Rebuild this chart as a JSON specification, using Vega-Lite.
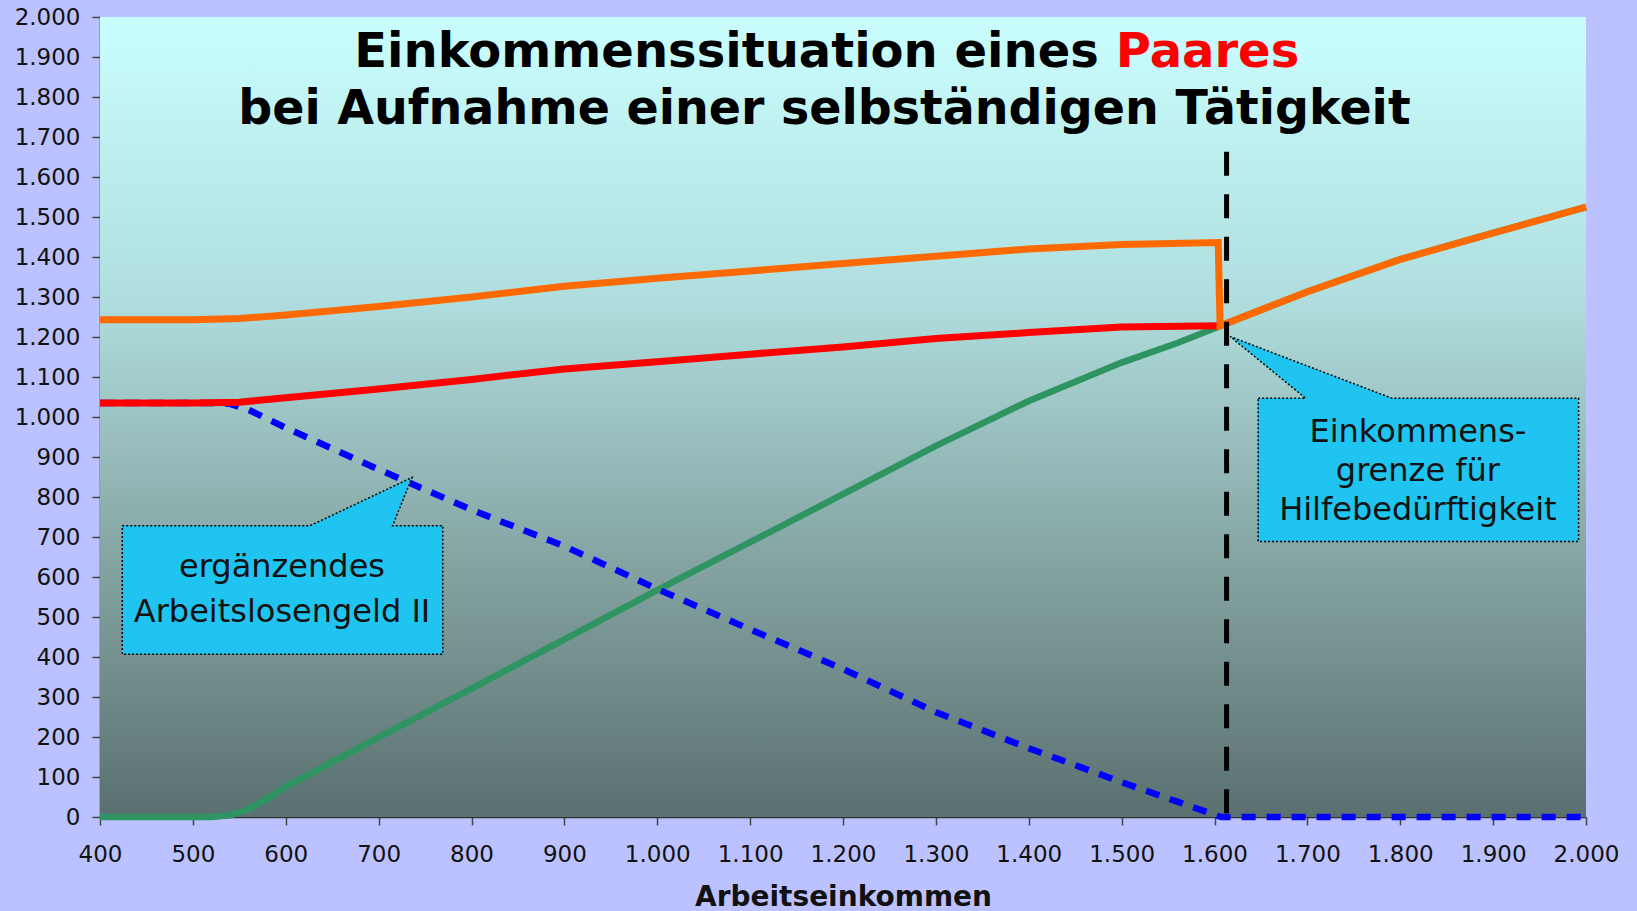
{
  "$schema": "https://vega.github.io/schema/vega-lite/v6.json",
  "autosize": "none",
  "width": 1486,
  "height": 800,
  "padding": {"left": 100, "top": 17, "right": 51, "bottom": 94},
  "background": "#bcc2ff",
  "config": {
    "locale": {"number": {"decimal": ",", "thousands": ".", "grouping": [3], "currency": ["", " €"]}},
    "view": {"stroke": null},
    "font": "DejaVu Sans",
    "axis": {
      "grid": false,
      "labelFont": "DejaVu Sans",
      "labelFontSize": 23,
      "labelColor": "#111111",
      "labelOverlap": false,
      "domainColor": "#333333",
      "domainWidth": 1.5,
      "tickColor": "#444444",
      "tickWidth": 1.5,
      "tickSize": 8,
      "titleFont": "DejaVu Sans",
      "titleFontWeight": "bold",
      "titleColor": "#111111"
    }
  },
  "datasets": {
    "series": [
      {"x": 400, "y": 0, "s": "Arbeitseinkommen"},
      {"x": 520, "y": 0, "s": "Arbeitseinkommen"},
      {"x": 540, "y": 4, "s": "Arbeitseinkommen"},
      {"x": 560, "y": 20, "s": "Arbeitseinkommen"},
      {"x": 580, "y": 46, "s": "Arbeitseinkommen"},
      {"x": 600, "y": 76, "s": "Arbeitseinkommen"},
      {"x": 700, "y": 199, "s": "Arbeitseinkommen"},
      {"x": 800, "y": 321, "s": "Arbeitseinkommen"},
      {"x": 900, "y": 444, "s": "Arbeitseinkommen"},
      {"x": 1000, "y": 567, "s": "Arbeitseinkommen"},
      {"x": 1100, "y": 687, "s": "Arbeitseinkommen"},
      {"x": 1200, "y": 807, "s": "Arbeitseinkommen"},
      {"x": 1300, "y": 928, "s": "Arbeitseinkommen"},
      {"x": 1400, "y": 1040, "s": "Arbeitseinkommen"},
      {"x": 1500, "y": 1136, "s": "Arbeitseinkommen"},
      {"x": 1560, "y": 1185, "s": "Arbeitseinkommen"},
      {"x": 1607, "y": 1228, "s": "Arbeitseinkommen"},
      {"x": 1700, "y": 1313, "s": "Arbeitseinkommen"},
      {"x": 1800, "y": 1394, "s": "Arbeitseinkommen"},
      {"x": 1900, "y": 1460, "s": "Arbeitseinkommen"},
      {"x": 2000, "y": 1525, "s": "Arbeitseinkommen"},

      {"x": 400, "y": 1035, "s": "Arbeitslosengeld II"},
      {"x": 520, "y": 1035, "s": "Arbeitslosengeld II"},
      {"x": 540, "y": 1033, "s": "Arbeitslosengeld II"},
      {"x": 560, "y": 1018, "s": "Arbeitslosengeld II"},
      {"x": 600, "y": 973, "s": "Arbeitslosengeld II"},
      {"x": 700, "y": 869, "s": "Arbeitslosengeld II"},
      {"x": 800, "y": 768, "s": "Arbeitslosengeld II"},
      {"x": 900, "y": 677, "s": "Arbeitslosengeld II"},
      {"x": 1000, "y": 570, "s": "Arbeitslosengeld II"},
      {"x": 1100, "y": 469, "s": "Arbeitslosengeld II"},
      {"x": 1200, "y": 370, "s": "Arbeitslosengeld II"},
      {"x": 1300, "y": 262, "s": "Arbeitslosengeld II"},
      {"x": 1400, "y": 172, "s": "Arbeitslosengeld II"},
      {"x": 1500, "y": 87, "s": "Arbeitslosengeld II"},
      {"x": 1607, "y": 0, "s": "Arbeitslosengeld II"},
      {"x": 2000, "y": 0, "s": "Arbeitslosengeld II"},

      {"x": 400, "y": 1035, "s": "Gesamteinkommen"},
      {"x": 500, "y": 1035, "s": "Gesamteinkommen"},
      {"x": 550, "y": 1037, "s": "Gesamteinkommen"},
      {"x": 600, "y": 1048, "s": "Gesamteinkommen"},
      {"x": 700, "y": 1070, "s": "Gesamteinkommen"},
      {"x": 800, "y": 1094, "s": "Gesamteinkommen"},
      {"x": 900, "y": 1120, "s": "Gesamteinkommen"},
      {"x": 1000, "y": 1138, "s": "Gesamteinkommen"},
      {"x": 1100, "y": 1157, "s": "Gesamteinkommen"},
      {"x": 1200, "y": 1175, "s": "Gesamteinkommen"},
      {"x": 1300, "y": 1196, "s": "Gesamteinkommen"},
      {"x": 1400, "y": 1211, "s": "Gesamteinkommen"},
      {"x": 1500, "y": 1225, "s": "Gesamteinkommen"},
      {"x": 1605, "y": 1228, "s": "Gesamteinkommen"},

      {"x": 400, "y": 1243, "s": "Gesamteinkommen inkl. Zuschlag"},
      {"x": 500, "y": 1243, "s": "Gesamteinkommen inkl. Zuschlag"},
      {"x": 550, "y": 1246, "s": "Gesamteinkommen inkl. Zuschlag"},
      {"x": 600, "y": 1255, "s": "Gesamteinkommen inkl. Zuschlag"},
      {"x": 700, "y": 1276, "s": "Gesamteinkommen inkl. Zuschlag"},
      {"x": 800, "y": 1300, "s": "Gesamteinkommen inkl. Zuschlag"},
      {"x": 900, "y": 1327, "s": "Gesamteinkommen inkl. Zuschlag"},
      {"x": 1000, "y": 1347, "s": "Gesamteinkommen inkl. Zuschlag"},
      {"x": 1100, "y": 1365, "s": "Gesamteinkommen inkl. Zuschlag"},
      {"x": 1200, "y": 1384, "s": "Gesamteinkommen inkl. Zuschlag"},
      {"x": 1300, "y": 1402, "s": "Gesamteinkommen inkl. Zuschlag"},
      {"x": 1400, "y": 1420, "s": "Gesamteinkommen inkl. Zuschlag"},
      {"x": 1500, "y": 1431, "s": "Gesamteinkommen inkl. Zuschlag"},
      {"x": 1604, "y": 1436, "s": "Gesamteinkommen inkl. Zuschlag"},
      {"x": 1606, "y": 1228, "s": "Gesamteinkommen inkl. Zuschlag"},
      {"x": 1700, "y": 1313, "s": "Gesamteinkommen inkl. Zuschlag"},
      {"x": 1800, "y": 1394, "s": "Gesamteinkommen inkl. Zuschlag"},
      {"x": 1900, "y": 1460, "s": "Gesamteinkommen inkl. Zuschlag"},
      {"x": 2000, "y": 1525, "s": "Gesamteinkommen inkl. Zuschlag"}
    ],
    "callouts": [
      {"box": "alg", "o": 1, "x": 424, "y": 728},
      {"box": "alg", "o": 2, "x": 626, "y": 728},
      {"box": "alg", "o": 3, "x": 736, "y": 849},
      {"box": "alg", "o": 4, "x": 715, "y": 728},
      {"box": "alg", "o": 5, "x": 769, "y": 728},
      {"box": "alg", "o": 6, "x": 769, "y": 407},
      {"box": "alg", "o": 7, "x": 424, "y": 407},
      {"box": "alg", "o": 8, "x": 424, "y": 728},
      {"box": "grenze", "o": 1, "x": 1647, "y": 1047},
      {"box": "grenze", "o": 2, "x": 1698, "y": 1047},
      {"box": "grenze", "o": 3, "x": 1617, "y": 1201},
      {"box": "grenze", "o": 4, "x": 1791, "y": 1047},
      {"box": "grenze", "o": 5, "x": 1992, "y": 1047},
      {"box": "grenze", "o": 6, "x": 1992, "y": 689},
      {"box": "grenze", "o": 7, "x": 1647, "y": 689},
      {"box": "grenze", "o": 8, "x": 1647, "y": 1047}
    ],
    "labels": [
      {"x": 596, "y": 624, "t": "ergänzendes"},
      {"x": 596, "y": 512, "t": "Arbeitslosengeld II"},
      {"x": 1819, "y": 963, "t": "Einkommens-"},
      {"x": 1819, "y": 864, "t": "grenze für"},
      {"x": 1819, "y": 768, "t": "Hilfebedürftigkeit"}
    ]
  },
  "layer": [
    {
      "data": {"values": [{}]},
      "mark": {
        "type": "rect",
        "fill": {
          "gradient": "linear", "x1": 0, "y1": 0, "x2": 0, "y2": 1,
          "stops": [
            {"offset": 0, "color": "#cafefe"},
            {"offset": 0.35, "color": "#b0dede"},
            {"offset": 0.68, "color": "#84a4a2"},
            {"offset": 1, "color": "#5a7070"}
          ]
        }
      },
      "encoding": {
        "x": {"datum": 400, "type": "quantitative", "scale": {"domain": [400, 2000], "nice": false, "zero": false},
          "axis": {"values": [400,500,600,700,800,900,1000,1100,1200,1300,1400,1500,1600,1700,1800,1900,2000], "tickCount": 40, "format": ",.0f", "title": "Arbeitseinkommen", "titleFontSize": 28, "labelPadding": 18, "titlePadding": 17, "labelFlush": false, "labelOverlap": false}},
        "x2": {"datum": 2000},
        "y": {"datum": 0, "type": "quantitative", "scale": {"domain": [0, 2000], "nice": false},
          "axis": {"values": [0,100,200,300,400,500,600,700,800,900,1000,1100,1200,1300,1400,1500,1600,1700,1800,1900,2000], "tickCount": 40, "format": ",.0f", "title": null, "labelPadding": 12, "labelOverlap": false, "labelBound": false, "labelFlush": false}},
        "y2": {"datum": 2000}
      }
    },
    {
      "data": {"name": "series"},
      "transform": [{"filter": "datum.s === 'Arbeitseinkommen'"}],
      "mark": {"type": "line", "color": "#2e9461", "strokeWidth": 6.5, "strokeCap": "butt"},
      "encoding": {"x": {"field": "x", "type": "quantitative"}, "y": {"field": "y", "type": "quantitative"}}
    },
    {
      "data": {"name": "series"},
      "transform": [{"filter": "datum.s === 'Arbeitslosengeld II'"}],
      "mark": {"type": "line", "color": "#0000ff", "strokeWidth": 6.5, "strokeDash": [14, 11], "strokeCap": "butt"},
      "encoding": {"x": {"field": "x", "type": "quantitative"}, "y": {"field": "y", "type": "quantitative"}}
    },
    {
      "data": {"name": "series"},
      "transform": [{"filter": "datum.s === 'Gesamteinkommen'"}],
      "mark": {"type": "line", "color": "#ff0000", "strokeWidth": 7, "strokeCap": "butt"},
      "encoding": {"x": {"field": "x", "type": "quantitative"}, "y": {"field": "y", "type": "quantitative"}}
    },
    {
      "data": {"name": "series"},
      "transform": [{"filter": "datum.s === 'Gesamteinkommen inkl. Zuschlag'"}],
      "mark": {"type": "line", "color": "#ff6a00", "strokeWidth": 7, "strokeCap": "butt", "strokeJoin": "miter"},
      "encoding": {"x": {"field": "x", "type": "quantitative"}, "y": {"field": "y", "type": "quantitative"}}
    },
    {
      "data": {"values": [{}]},
      "mark": {"type": "rule", "color": "#000000", "strokeWidth": 5, "strokeDash": [24, 18.5], "strokeCap": "butt"},
      "encoding": {"x": {"datum": 1613}, "y": {"datum": 1663}, "y2": {"datum": 0}}
    },
    {
      "data": {"name": "callouts"},
      "mark": {"type": "line", "fill": "#1fc5f0", "stroke": "#000000", "strokeWidth": 1.5, "strokeDash": [2, 2], "interpolate": "linear"},
      "encoding": {
        "x": {"field": "x", "type": "quantitative"},
        "y": {"field": "y", "type": "quantitative"},
        "detail": {"field": "box"},
        "order": {"field": "o"}
      }
    },
    {
      "data": {"name": "labels"},
      "mark": {"type": "text", "font": "DejaVu Sans", "fontSize": 32, "color": "#111111", "align": "center", "baseline": "middle"},
      "encoding": {
        "x": {"field": "x", "type": "quantitative"},
        "y": {"field": "y", "type": "quantitative"},
        "text": {"field": "t"}
      }
    },
    {
      "data": {"values": [{"x": 1484, "y": 1875, "t": "Einkommenssituation eines"}]},
      "mark": {"type": "text", "font": "DejaVu Sans", "fontWeight": "bold", "fontSize": 48, "color": "#000000", "align": "right", "baseline": "alphabetic", "dx": -8},
      "encoding": {"x": {"field": "x", "type": "quantitative"}, "y": {"field": "y", "type": "quantitative"}, "text": {"field": "t"}}
    },
    {
      "data": {"values": [{"x": 1484, "y": 1875, "t": "Paares"}]},
      "mark": {"type": "text", "font": "DejaVu Sans", "fontWeight": "bold", "fontSize": 48, "color": "#ff0000", "align": "left", "baseline": "alphabetic", "dx": 9},
      "encoding": {"x": {"field": "x", "type": "quantitative"}, "y": {"field": "y", "type": "quantitative"}, "text": {"field": "t"}}
    },
    {
      "data": {"values": [{"x": 1180, "y": 1732, "t": "bei Aufnahme einer selbständigen Tätigkeit"}]},
      "mark": {"type": "text", "font": "DejaVu Sans", "fontWeight": "bold", "fontSize": 47.5, "color": "#000000", "align": "center", "baseline": "alphabetic"},
      "encoding": {"x": {"field": "x", "type": "quantitative"}, "y": {"field": "y", "type": "quantitative"}, "text": {"field": "t"}}
    }
  ]
}
